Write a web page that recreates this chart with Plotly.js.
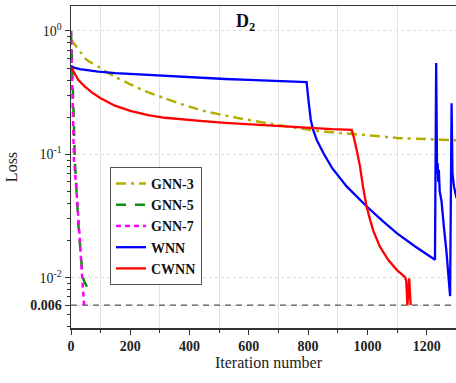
<!DOCTYPE html>
<html>
<head>
<meta charset="utf-8">
<script src="https://cdn.plot.ly/plotly-3.0.1.min.js"></script>
<style>
html,body{margin:0;padding:0;overflow:hidden;background:#fff;}
#chart{width:470px;height:383px;}
</style>
</head>
<body>
<div id="chart"></div>
<script>
// ---- data ----
const seriesNames = ["GNN-3", "GNN-5", "GNN-7", "WNN", "CWNN"];

const gnn3X = [0, 10, 20, 33, 47, 70, 92, 120, 148, 200, 250, 317, 380, 445, 550, 660, 806, 907, 1000, 1100, 1200, 1299, 1340];
const gnn3Y = [0.85, 0.79, 0.74, 0.67, 0.60, 0.55, 0.514, 0.465, 0.426, 0.37, 0.325, 0.285, 0.252, 0.226, 0.2, 0.179, 0.158, 0.149, 0.143, 0.136, 0.133, 0.13, 0.129];

const gnn5X = [0, 4, 8, 13, 17, 21, 25, 30, 35, 39, 45, 52, 58, 64];
const gnn5Y = [1.0, 0.55, 0.25, 0.09, 0.055, 0.038, 0.027, 0.019, 0.0135, 0.0102, 0.0093, 0.0086, 0.008, 0.0076];

const gnn7X = [0, 3, 6, 10, 15, 19, 27, 33, 37, 44];
const gnn7Y = [1.0, 0.45, 0.2, 0.09, 0.065, 0.049, 0.026, 0.015, 0.0099, 0.006];

const wnnX = [0, 10, 30, 60, 92, 150, 220, 300, 370, 445, 520, 600, 700, 790, 795, 801, 809, 817, 829, 851, 880, 930, 997, 1050, 1099, 1160, 1228, 1232, 1235, 1237, 1239, 1241, 1244, 1250, 1258, 1267, 1279, 1284, 1287, 1292, 1300, 1340];
const wnnY = [0.52, 0.505, 0.49, 0.478, 0.468, 0.455, 0.445, 0.435, 0.424, 0.414, 0.408, 0.402, 0.395, 0.389, 0.385, 0.276, 0.19, 0.158, 0.131, 0.103, 0.078, 0.055, 0.038, 0.029, 0.023, 0.018, 0.014, 0.55, 0.07, 0.085, 0.06, 0.075, 0.05, 0.042, 0.026, 0.016, 0.0071, 0.26, 0.07, 0.055, 0.045, 0.035];

const cwnnX = [0, 10, 25, 47, 70, 100, 148, 200, 260, 317, 380, 445, 520, 600, 705, 800, 880, 947, 955, 965, 975, 985, 997, 1010, 1020, 1042, 1070, 1099, 1127, 1131, 1135, 1141, 1146];
const cwnnY = [0.51, 0.46, 0.40, 0.354, 0.318, 0.285, 0.248, 0.225, 0.208, 0.198, 0.191, 0.186, 0.18, 0.175, 0.168, 0.163, 0.16, 0.158, 0.135, 0.105, 0.08, 0.055, 0.038, 0.029, 0.024, 0.0179, 0.014, 0.0116, 0.0101, 0.0095, 0.006, 0.0099, 0.006];

const refX = [0, 1340];
const refY = [0.006, 0.006];

const yTickVals = [1, 0.1, 0.01, 0.006];
const yTickText = ["10<sup>0</sup>", "10<sup>-1</sup>", "10<sup>-2</sup>", "<b>0.006</b>"];

// ---- chart ----
const F = "'Liberation Serif', 'Times New Roman', serif";

const traces = [
  {x: refX, y: refY, mode: "lines", showlegend: false, hoverinfo: "skip",
   line: {color: "#555555", width: 1.3, dash: "6px,5px"}},
  {x: gnn3X, y: gnn3Y, name: seriesNames[0], mode: "lines",
   line: {color: "#b3ad00", width: 2.5, dash: "10px,5px,3px,5px", shape: "spline", smoothing: 0.6}},
  {x: gnn5X, y: gnn5Y, name: seriesNames[1], mode: "lines",
   line: {color: "#138c13", width: 2.5, dash: "10px,9px"}},
  {x: gnn7X, y: gnn7Y, name: seriesNames[2], mode: "lines",
   line: {color: "#ff00ff", width: 2.5, dash: "5px,4px"}},
  {x: wnnX, y: wnnY, name: seriesNames[3], mode: "lines",
   line: {color: "#0000ff", width: 2.3}},
  {x: cwnnX, y: cwnnY, name: seriesNames[4], mode: "lines",
   line: {color: "#ff0000", width: 2.3}}
];

const plotW = 470 - 71 - 4;
const xMax = plotW / 0.2964;

const layout = {
  width: 470, height: 383,
  margin: {l: 71, r: 4, t: 6, b: 55},
  paper_bgcolor: "#ffffff", plot_bgcolor: "#ffffff",
  font: {family: F, color: "#222"},
  showlegend: true,
  legend: {
    x: 0.0987, y: 0.5, xanchor: "left", yanchor: "top",
    bgcolor: "#ffffff", bordercolor: "#555555", borderwidth: 1,
    font: {family: F, size: 14, color: "#111", weight: "bold"},
    tracegroupgap: 0, itemwidth: 30
  },
  xaxis: {
    range: [0, xMax], showline: true, linecolor: "#333", linewidth: 1.5, mirror: true,
    tickmode: "linear", tick0: 0, dtick: 200, ticks: "outside", ticklen: 5, tickcolor: "#333",
    showgrid: false, zeroline: false,
    tickfont: {family: F, size: 14, color: "#222", weight: "bold"},
    minor: {tick0: 100, dtick: 200, ticks: "outside", ticklen: 3, tickcolor: "#333",
            showgrid: true, gridcolor: "#e3e3e3", gridwidth: 1},
    title: {text: "Iteration number", font: {family: F, size: 16, color: "#222"}, standoff: 2}
  },
  yaxis: {
    type: "log", range: [-2.407, 0.2024],
    showline: true, linecolor: "#333", linewidth: 1.5, mirror: true,
    tickmode: "array", tickvals: yTickVals, ticktext: yTickText,
    ticks: "outside", ticklen: 5, tickcolor: "#333",
    showgrid: true, gridcolor: "#dcdcdc", gridwidth: 1, griddash: "dot", zeroline: false,
    tickfont: {family: F, size: 14, color: "#222"},
    minor: {dtick: "D1", ticks: "outside", ticklen: 3, tickcolor: "#333", showgrid: false},
    title: {text: "Loss", font: {family: F, size: 16, color: "#222"}, standoff: 8}
  },
  annotations: [{
    xref: "paper", yref: "paper", x: (245 - 71) / plotW, y: (328 - 9) / 322,
    xanchor: "center", yanchor: "top",
    text: "<b>D<sub>2</sub></b>", showarrow: false,
    font: {family: F, size: 18, color: "#111"}
  }]
};

Plotly.newPlot("chart", traces, layout, {displayModeBar: false, staticPlot: true});
</script>
</body>
</html>
